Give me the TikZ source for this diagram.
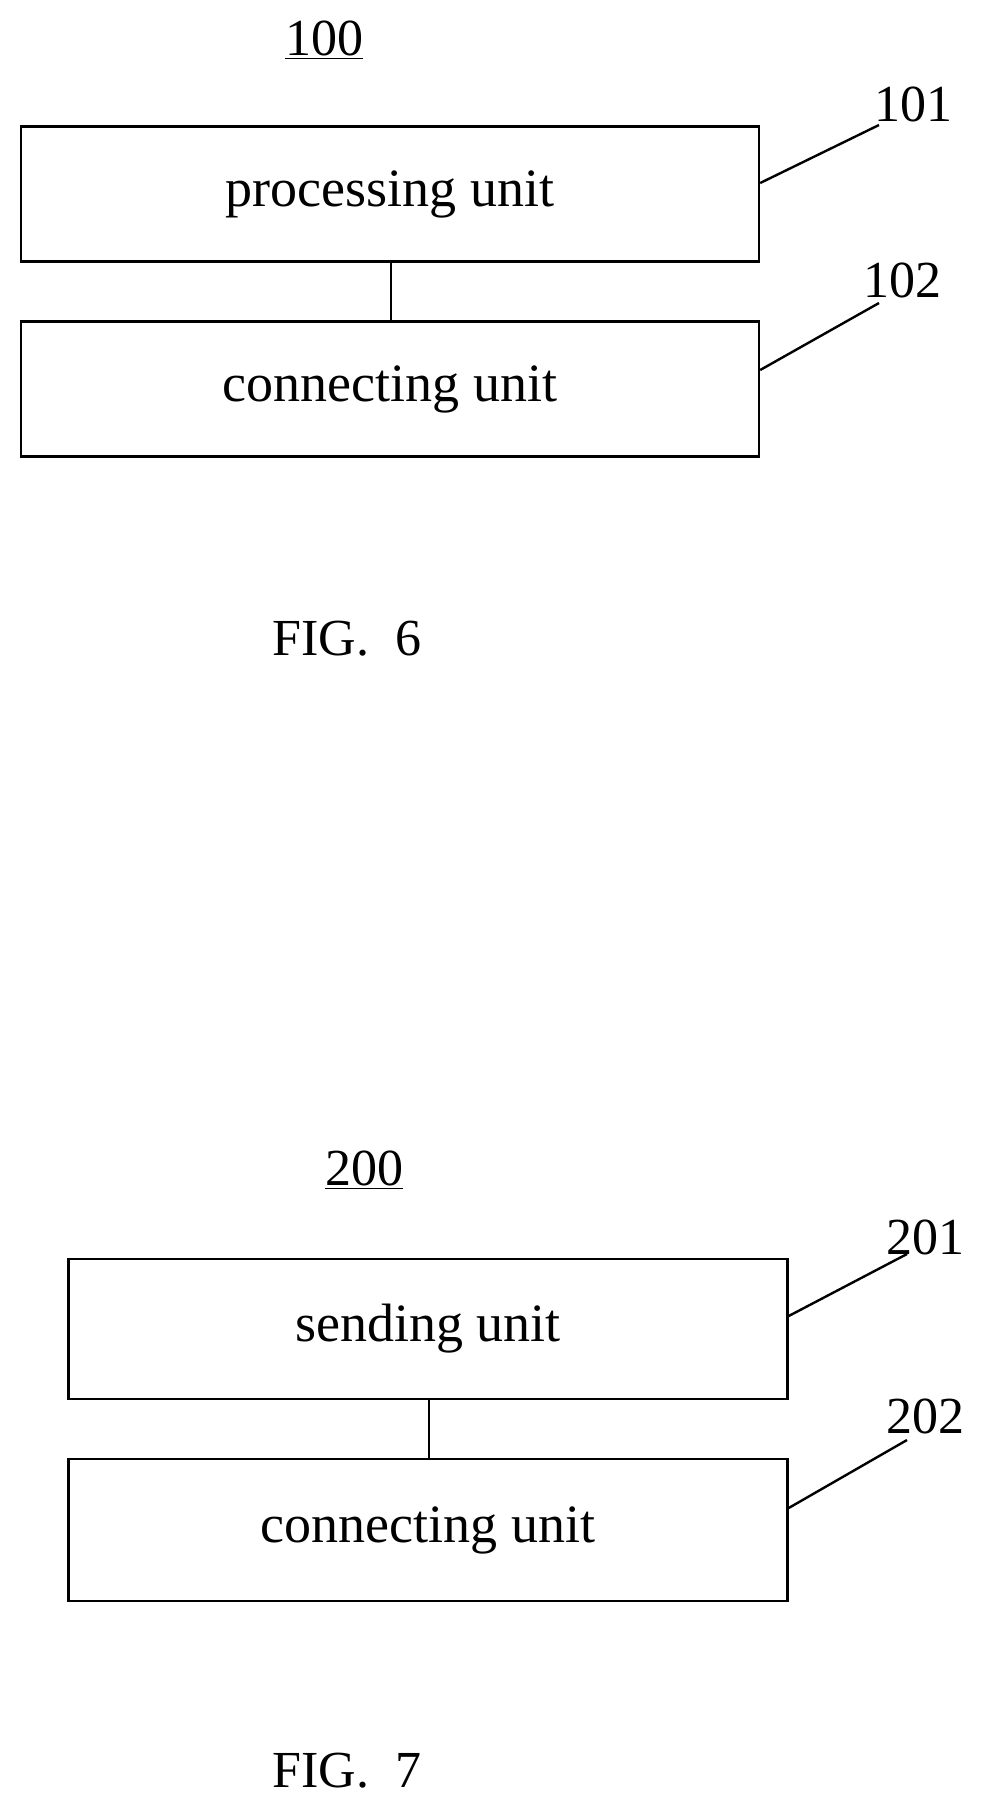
\documentclass[tikz,border=0pt]{standalone}
\usepackage{fontspec}
\setmainfont{Liberation Serif}
\begin{document}
\begin{tikzpicture}[x=0.5pt,y=-0.5pt,line width=1.2pt,
  unit/.style={draw,minimum width=369pt,minimum height=67.5pt,font=\fontsize{27}{31}\selectfont},
  lbl/.style={font=\fontsize{26}{30}\selectfont}]
  \useasboundingbox (0,0) rectangle (994,1817);
  \path
  (324,40)   node[lbl](n100) {\underline{100}}
  (390,194)  node[unit](proc) {processing unit}
  (390,389)  node[unit](conn1) {connecting unit}
  (913,104)  node[lbl](n101) {101}
  (902,280)  node[lbl](n102) {102}
  (347,639)  node[lbl](fig6) {FIG.\ \ 6}

  (364,1170) node[lbl](n200) {\underline{200}}
  (428,1329) node[unit,minimum width=359.5pt,minimum height=70pt](send) {sending unit}
  (428,1530) node[unit,minimum width=359.5pt,minimum height=71pt](conn2) {connecting unit}
  (925,1237) node[lbl](n201) {201}
  (925,1416) node[lbl](n202) {202}
  (347,1771) node[lbl](fig7) {FIG.\ \ 7}
  ;
  \coordinate (l101) at (879,125);
  \coordinate (l102) at (879,303);
  \coordinate (l201) at (907,1254);
  \coordinate (l202) at (907,1440);

  \draw (proc.south -| 391,0) -- (conn1.north -| 391,0);
  \draw (send.south -| 429,0) -- (conn2.north -| 429,0);

  \draw (proc.east |- 0,183) -- (l101);
  \draw (conn1.east |- 0,370) -- (l102);
  \draw (send.east |- 0,1316) -- (l201);
  \draw (conn2.east |- 0,1508) -- (l202);
\end{tikzpicture}
\end{document}
